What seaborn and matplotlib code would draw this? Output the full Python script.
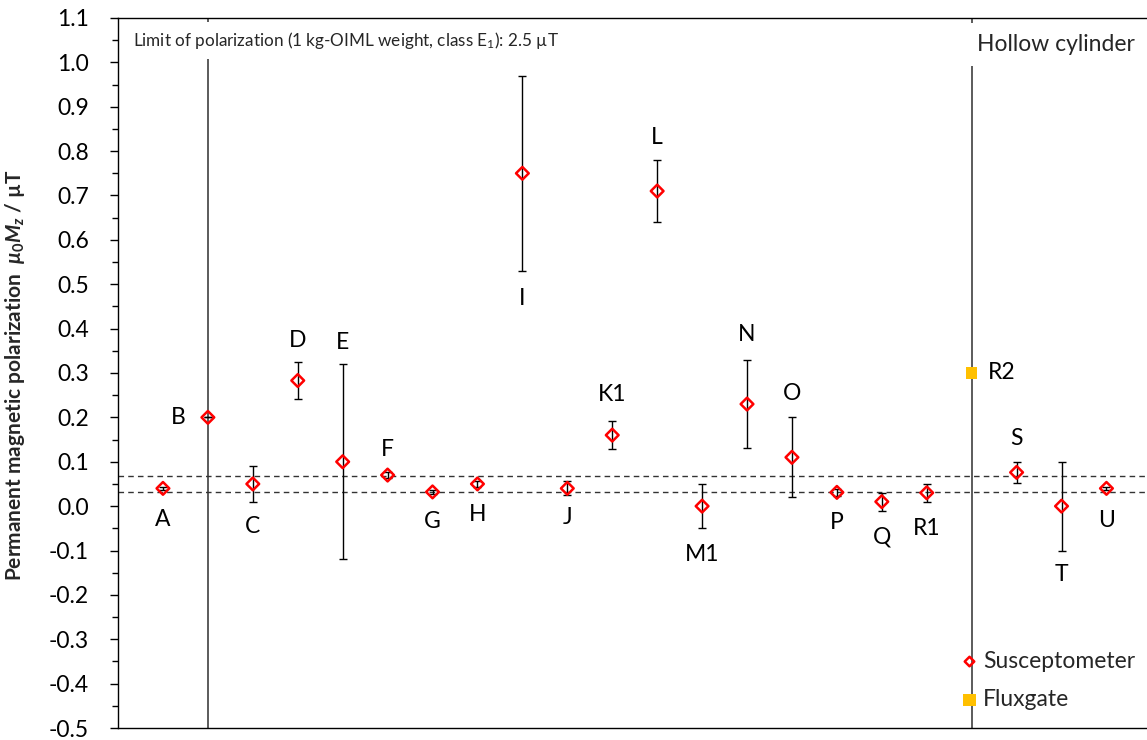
import matplotlib
matplotlib.use('Agg')
import matplotlib.pyplot as plt
import matplotlib.ticker as mticker
import pandas as pd
import seaborn as sns

# data
names = ['A', 'B', 'C', 'D', 'E', 'F', 'G', 'H', 'I', 'J', 'K1', 'L',
         'M1', 'N', 'O', 'P', 'Q', 'R1', 'R2', 'S', 'T', 'U']
values = [0.04, 0.20, 0.05, 0.283, 0.10, 0.07, 0.032, 0.05, 0.75, 0.04, 0.16, 0.71,
          0.0, 0.23, 0.11, 0.031, 0.01, 0.03, 0.30, 0.076, 0.0, 0.04]
errors = [0.003, 0.0, 0.04, 0.041, 0.22, 0.006, 0.004, 0.007, 0.22, 0.016, 0.032, 0.07,
          0.05, 0.10, 0.09, 0.008, 0.02, 0.02, 0.0, 0.024, 0.10, 0.003]
method = ['Susceptometer'] * 18 + ['Fluxgate'] + ['Susceptometer'] * 3
limits = [0.067, 0.032]

# label placement (pixel offsets from the point)
label_dx = [0, -22, 0, 0, 0, 0, 0, 0, 0, 0, 0, 0, 0, 0, 0, 0, 0, 0, 16, 0, 0, 0]
label_dy = [-31, 0, -43, 40, 119, 26, -30, -31, -125, -29, 41, 54,
            -48, 70, 64, -30, -35, -36, 0, 34, -68, -32]

df = pd.DataFrame({'name': names, 'value': values, 'err': errors, 'method': method})
df['pos'] = range(1, len(df) + 1)

sns.set_style('ticks')
plt.rcParams['font.family'] = ['Lato', 'DejaVu Sans']
plt.rcParams['mathtext.fontset'] = 'custom'
plt.rcParams['mathtext.rm'] = 'Lato'
plt.rcParams['mathtext.it'] = 'Lato:italic:bold'
plt.rcParams['mathtext.bf'] = 'Lato:bold'

fig = plt.figure(figsize=(11.47, 7.40), dpi=100)
ax = fig.add_axes([0.1029, 0.0162, 0.897, 0.9595])

# separator lines
for xv in [2, 19]:
    ax.plot([xv, xv], [-0.5, 1.1], color='#404040', lw=1.2, zorder=1)
for yv in limits:
    ax.axhline(yv, color='#333333', lw=1, ls=(0, (4, 3)), zorder=1)

ax.errorbar(df['pos'], df['value'], yerr=df['err'], fmt='none', ecolor='black',
            elinewidth=1, capsize=2.6, capthick=1, zorder=2)

sus = df[df['method'] == 'Susceptometer']
flux = df[df['method'] == 'Fluxgate']
sns.scatterplot(data=sus, x='pos', y='value', marker='D', s=42, facecolor='none',
                edgecolor='red', linewidth=1.8, label='Susceptometer', ax=ax, zorder=3)
sns.scatterplot(data=flux, x='pos', y='value', marker='s', s=70, color='#FFC000',
                edgecolor='none', label='Fluxgate', ax=ax, zorder=3)

for i, row in df.iterrows():
    ha = 'center'
    if label_dx[i] < 0:
        ha = 'right'
    elif label_dx[i] > 0:
        ha = 'left'
    ax.annotate(row['name'], (row['pos'], row['value']), xytext=(label_dx[i], label_dy[i]),
                textcoords='offset pixels', ha=ha, va='center', fontsize=16.5, color='black')

ax.text(0.33, 1.049, 'Limit of polarization (1 kg-OIML weight, class E$_{1}$): 2.5 µT',
        fontsize=12.3, va='center', ha='left', zorder=4,
        bbox=dict(facecolor='white', edgecolor='none', pad=6))
ax.text(19.12, 1.04, 'Hollow cylinder', fontsize=16.5, va='center', ha='left', zorder=4,
        bbox=dict(facecolor='white', edgecolor='none', pad=8))

ax.set_xlim(0, 22.9)
ax.set_ylim(-0.5, 1.1)
ax.yaxis.set_major_locator(mticker.MultipleLocator(0.1))
ax.yaxis.set_minor_locator(mticker.MultipleLocator(0.05))
ax.yaxis.set_major_formatter(mticker.FuncFormatter(lambda v, p: '{:.1f}'.format(v)))
ax.tick_params(axis='y', which='major', length=6, width=1, labelsize=16.5, colors='black', pad=15)
ax.tick_params(axis='y', which='minor', length=4, width=1, colors='black')
ax.set_xticks([])
ax.set_xlabel('')
ax.set_ylabel('Permanent magnetic polarization  $\\mu_\\mathbf{0}M_z$ / µT',
              fontsize=15, fontweight='bold')
ax.yaxis.set_label_coords(-0.0884, 0.497)

for side in ['left', 'top', 'bottom']:
    ax.spines[side].set_color('black')
    ax.spines[side].set_linewidth(1)
ax.spines['right'].set_visible(False)

leg = ax.legend(loc='upper left', bbox_to_anchor=(0.812, 0.122), frameon=False, fontsize=16.5,
                handlelength=0.6, handletextpad=0.3, labelspacing=0.75, markerscale=0.75,
                borderaxespad=0)
leg.legend_handles[1].set_sizes([80])

fig.savefig('out.png', dpi=100)
